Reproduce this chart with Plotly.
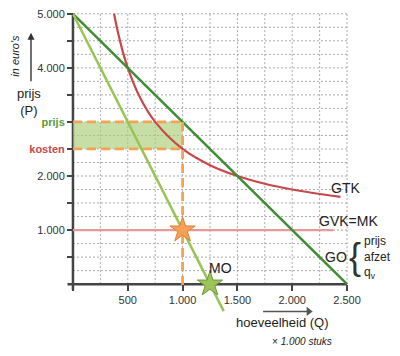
import plotly.graph_objects as go

# ---- data ----
q_go = [0, 2500]
p_go = [5000, 0]
q_mo = [0, 1375]
p_mo = [5000, -500]
q_gtk = [375, 400, 450, 500, 600, 750, 1000, 1250, 1500, 1750, 2000, 2250, 2440]
p_gtk = [5000, 4750, 4333, 4000, 3500, 3000, 2500, 2200, 2000, 1857, 1750, 1667, 1615]
q_mk = [0, 2375]
p_mk = [1000, 1000]
q_opt = 1000
p_price = 3000
p_cost = 2500
q_mo_zero = 1250

x_tickvals = [0, 500, 1000, 1500, 2000, 2500]
x_ticktext = ["", "500", "1.000", "1.500", "2.000", "2.500"]
y_tickvals = [1000, 2000, 2500, 3000, 4000, 5000]
y_ticktext = ["1.000", "2.000",
              "<b><span style='color:#c8474a'>kosten</span></b>",
              "<b><span style='color:#5a9a35'>prijs</span></b>",
              "4.000", "5.000"]
y_minor = [500, 1500, 3500, 4500]
grid_q = [250 * i for i in range(1, 11)]
grid_p = [250 * i for i in range(1, 21)]

# decorative arrow under the x-axis labels (data units)
arrow_q = [1734, 2150]
arrow_p = [-505, -505]

C_GO = "#3f8c34"
C_MO = "#97c452"
C_GTK = "#c8474a"
C_MK = "#e39a9a"
C_OR = "#f7a24e"
C_AX = "#444444"
FONT = "Liberation Sans, Arial, sans-serif"

X_RANGE = [-100, 2600]
Y_RANGE = [-700, 5070]
ML, MT = 54, 0
PW = 295.9
PH = 313.9

fig = go.Figure()

fig.add_trace(go.Scatter(x=[0, q_opt, q_opt, 0, 0], y=[p_cost, p_cost, p_price, p_price, p_cost],
                         fill="toself", fillcolor="rgba(170,204,120,0.65)", line=dict(width=0),
                         mode="lines", hoverinfo="skip"))
fig.add_trace(go.Scatter(x=q_mk, y=p_mk, mode="lines", line=dict(color=C_MK, width=2.2)))
fig.add_trace(go.Scatter(x=q_gtk, y=p_gtk, mode="lines", line=dict(color=C_GTK, width=2.2, shape="spline")))
fig.add_trace(go.Scatter(x=q_go, y=p_go, mode="lines", line=dict(color=C_GO, width=2.5)))
fig.add_trace(go.Scatter(x=q_mo, y=p_mo, mode="lines", line=dict(color=C_MO, width=2.5)))
dash = "9px,5px"
fig.add_trace(go.Scatter(x=[0, q_opt], y=[p_price, p_price], mode="lines", line=dict(color=C_OR, width=2.8, dash=dash)))
fig.add_trace(go.Scatter(x=[0, q_opt], y=[p_cost, p_cost], mode="lines", line=dict(color=C_OR, width=2.8, dash=dash)))
fig.add_trace(go.Scatter(x=[q_opt, q_opt], y=[p_price, -100], mode="lines", line=dict(color=C_OR, width=2.8, dash=dash)))
fig.add_trace(go.Scatter(x=[q_opt], y=[p_mk[0]], mode="markers",
                         marker=dict(symbol="star", size=19, color="#f5a055", line=dict(color="#d9823a", width=1))))
fig.add_trace(go.Scatter(x=[q_mo_zero], y=[0], mode="markers",
                         marker=dict(symbol="star", size=19, color="#9cc45a", line=dict(color="#6e9a3c", width=1))))
# x-axis title arrow
fig.add_trace(go.Scatter(x=arrow_q, y=arrow_p, mode="lines", line=dict(color="#555", width=1.5),
                         hoverinfo="skip", cliponaxis=False))
fig.add_trace(go.Scatter(x=arrow_q[1:], y=arrow_p[1:], mode="markers", hoverinfo="skip", cliponaxis=False,
                         marker=dict(symbol="triangle-right", size=8, color="#555", line=dict(width=0))))

# page pixel -> paper helper (page has an 8px body offset)
def px(x):
    return (x - 8 - ML) / PW

def py(y):
    return (PH - (y - 8 - MT)) / PH

shapes = []
grid_style = dict(color="#a8a8a8", width=1, dash="2px,2px")
for q in grid_q:
    shapes.append(dict(type="line", xref="x", yref="y", x0=q, x1=q, y0=0, y1=5000, line=grid_style, layer="below"))
for p in grid_p:
    shapes.append(dict(type="line", xref="x", yref="y", x0=0, x1=2500, y0=p, y1=p, line=grid_style, layer="below"))
shapes.append(dict(type="line", xref="x", yref="y", x0=-50, x1=2500, y0=0, y1=0,
                   line=dict(color=C_AX, width=2.5), layer="below"))
shapes.append(dict(type="line", xref="x", yref="y", x0=0, x1=0, y0=-110, y1=5000,
                   line=dict(color=C_AX, width=2.5), layer="below"))

ann = []
def txt(x, y, s, size=13, color="#222", xanchor="center", **kw):
    ann.append(dict(x=px(x), y=py(y), xref="paper", yref="paper", text=s, showarrow=False,
                    xanchor=xanchor, yanchor="middle",
                    font=dict(family=FONT, size=size, color=color), **kw))

txt(15, 54, "<i>in euro's</i>", size=11, textangle=-90)
txt(29, 101, "prijs<br>(P)", size=13)
txt(282, 322, "hoeveelheid (Q)", size=13)
txt(302, 342, "× <i>1.000 stuks</i>", size=10)
txt(345, 187, "GTK", size=14)
txt(348, 220, "GVK=MK", size=14)
txt(336, 257, "GO", size=14)
txt(355, 256, "{", size=36, color="#333")
txt(362, 257, "prijs<br>afzet<br>q<sub>v</sub>", size=12, xanchor="left", align="left")
txt(220, 268, "MO", size=14)
ann.append(dict(x=px(31), y=py(31), xref="paper", yref="paper", ax=0, ay=50, text="", showarrow=True,
                arrowhead=2, arrowsize=1, arrowwidth=1.4, arrowcolor="#333"))

fig.update_layout(
    width=400, height=356,
    margin=dict(l=ML, r=400 - ML - PW, t=MT, b=356 - MT - PH),
    paper_bgcolor="white", plot_bgcolor="white",
    showlegend=False,
    shapes=shapes, annotations=ann,
    font=dict(family=FONT, size=11, color="#333"),
    xaxis=dict(range=X_RANGE, anchor="free", position=(0 - Y_RANGE[0]) / (Y_RANGE[1] - Y_RANGE[0]),
               showgrid=False, zeroline=False, showline=False, ticklabeloverflow="allow",
               tickmode="array", tickvals=x_tickvals, ticktext=x_ticktext,
               ticks="outside", ticklen=6, tickwidth=2, tickcolor=C_AX,
               tickfont=dict(family=FONT, size=11, color="#333")),
    yaxis=dict(range=Y_RANGE, anchor="free", position=(0 - X_RANGE[0]) / (X_RANGE[1] - X_RANGE[0]),
               showgrid=False, zeroline=False, showline=False, ticklabeloverflow="allow",
               tickmode="array", tickvals=y_tickvals, ticktext=y_ticktext,
               ticks="outside", ticklen=6, tickwidth=2, tickcolor=C_AX,
               tickfont=dict(family=FONT, size=11, color="#333"),
               minor=dict(tickmode="array", tickvals=y_minor, ticks="outside",
                          ticklen=6, tickwidth=2, tickcolor=C_AX, showgrid=False)),
)

fig.write_html("out.html")
